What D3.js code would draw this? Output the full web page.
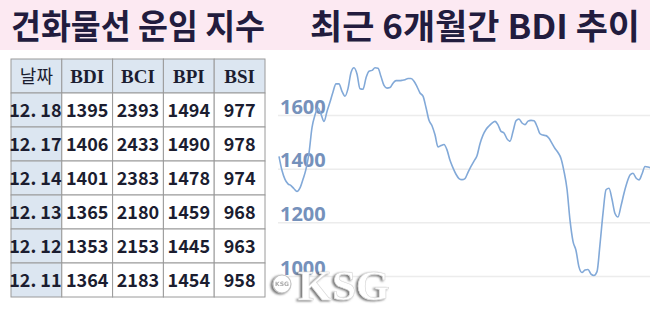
<!DOCTYPE html>
<html>
<head>
<meta charset="utf-8">
<title>BDI</title>
<script src="https://cdn.jsdelivr.net/npm/d3@7"></script>
<style>
  body { margin: 0; background: #fff; }
  svg { display: block; }
</style>
</head>
<body>
<svg id="chart" width="650" height="310"></svg>
<script>
const titleLeft = "건화물선 운임 지수";
const titleRight = "최근 6개월간 BDI 추이";
const headers = ["날짜", "BDI", "BCI", "BPI", "BSI"];
const dates = ["12. 18", "12. 17", "12. 14", "12. 13", "12. 12", "12. 11"];
const bdi = [1395, 1406, 1401, 1365, 1353, 1364];
const bci = [2393, 2433, 2383, 2180, 2153, 2183];
const bpi = [1494, 1490, 1478, 1459, 1445, 1454];
const bsi = [977, 978, 974, 968, 963, 958];
const yTicks = [1000, 1200, 1400, 1600];
// daily BDI over the last ~6 months
const bdiTrend = [
  1448, 1395, 1362, 1345, 1339, 1327, 1317, 1330, 1362, 1400,
  1460, 1555, 1602, 1628, 1605, 1578, 1615, 1650, 1688, 1718,
  1718, 1690, 1672, 1700, 1760, 1778, 1755, 1700, 1698, 1740,
  1765, 1768, 1778, 1776, 1745, 1712, 1702, 1704, 1720, 1730,
  1730, 1731, 1733, 1738, 1738, 1728, 1708, 1684, 1672, 1630,
  1582, 1562, 1528, 1483, 1488, 1492, 1472, 1433, 1405, 1381,
  1365, 1361, 1365, 1388, 1410, 1430, 1450, 1495, 1527, 1548,
  1561, 1572, 1578, 1565, 1541, 1535, 1513, 1504, 1540, 1580,
  1587, 1572, 1566, 1579, 1582, 1580, 1560, 1532, 1527, 1525,
  1515, 1496, 1477, 1462, 1440, 1392, 1326, 1210, 1131, 1097,
  1035, 1015, 1024, 1026, 1009, 1004, 1018, 1120, 1235, 1323,
  1329, 1288, 1235, 1222, 1263, 1310, 1350, 1378, 1385, 1367,
  1360, 1382, 1410, 1408, 1404
];

const svg = d3.select("#chart");

// title band
svg.append("rect").attr("x", 0).attr("y", 0).attr("width", 650).attr("height", 50).attr("fill", "#fce9f2");
svg.append("text").attr("x", 11).attr("y", 39)
  .attr("textLength", 254).attr("lengthAdjust", "spacingAndGlyphs")
  .style("font", "bold 34px 'Noto Sans CJK KR'").attr("fill", "#221c3e").text(titleLeft);
svg.append("text").attr("x", 310).attr("y", 39)
  .attr("textLength", 330).attr("lengthAdjust", "spacingAndGlyphs")
  .style("font", "bold 34px 'Noto Sans CJK KR'").attr("fill", "#221c3e").text(titleRight);

// table
const rows = dates.map((d, i) => [d, bdi[i], bci[i], bpi[i], bsi[i]]);
const colX = d3.scaleBand().domain(d3.range(headers.length)).range([11, 265]);
const rowY = d3.scaleBand().domain(d3.range(rows.length + 1)).range([59, 297]);

const tbl = svg.append("g");
const cells = [];
headers.forEach((h, c) => cells.push({ r: 0, c: c, v: h }));
rows.forEach((row, r) => row.forEach((v, c) => cells.push({ r: r + 1, c: c, v: v })));

tbl.selectAll("rect").data(cells).enter().append("rect")
  .attr("x", d => colX(d.c)).attr("y", d => rowY(d.r))
  .attr("width", colX.bandwidth()).attr("height", rowY.bandwidth())
  .attr("fill", d => (d.r == 0 || d.c == 0) ? "#dce6f1" : "#fff")
  .attr("stroke", "#9a9a9a").attr("stroke-width", 1);

tbl.selectAll("text").data(cells).enter().append("text")
  .attr("x", d => colX(d.c) + colX.bandwidth() / 2 + (d.c == 0 && d.r > 0 ? -1 : 0))
  .attr("y", d => rowY(d.r) + rowY.bandwidth() / 2 + 7)
  .attr("text-anchor", "middle")
  .style("font", d => {
    if (d.r == 0 && d.c == 0) return "18px 'Noto Sans CJK KR'";
    if (d.r == 0) return "bold 19px 'Liberation Serif'";
    return "bold 18px 'Noto Sans CJK KR'";
  })
  .attr("fill", "#1b1d30")
  .text(d => d.v);

// line chart
const x = d3.scaleLinear().domain([0, bdiTrend.length - 1]).range([279, 651]);
const y = d3.scaleLinear().domain([1000, 1600]).range([276.5, 115.5]);

const grid = svg.append("g");
grid.selectAll("line").data(yTicks).enter().append("line")
  .attr("x1", 278).attr("x2", 650)
  .attr("y1", d => y(d)).attr("y2", d => y(d))
  .attr("stroke", "#ececec").attr("stroke-width", 1.5);
grid.selectAll("text").data(yTicks).enter().append("text")
  .attr("x", 280).attr("y", d => y(d) - 2)
  .style("font", "bold 20px 'Open Sans'")
  .attr("fill", "#7591bb")
  .text(d => d);

const line = d3.line().x((d, i) => x(i)).y(d => y(d)).curve(d3.curveMonotoneX);
svg.append("path").datum(bdiTrend)
  .attr("d", line)
  .attr("fill", "none")
  .attr("stroke", "#82a9d8")
  .attr("stroke-width", 1.6);

// watermark
const defs = svg.append("defs");
const f = defs.append("filter").attr("id", "shadow").attr("x", "-20%").attr("y", "-20%").attr("width", "140%").attr("height", "140%");
f.append("feDropShadow").attr("dx", -2).attr("dy", 1).attr("stdDeviation", 1.2).attr("flood-color", "#666").attr("flood-opacity", 0.9);

const wm = svg.append("g").attr("filter", "url(#shadow)");
wm.append("circle").attr("cx", 282).attr("cy", 284).attr("r", 9)
  .attr("fill", "#fff").attr("stroke", "#c4c4c4").attr("stroke-width", 1.2);
wm.append("text").attr("x", 282).attr("y", 286).attr("text-anchor", "middle")
  .style("font", "bold 6px 'DejaVu Sans'").attr("fill", "#aaa").text("KSG");
wm.append("text").attr("x", 298).attr("y", 300)
  .attr("textLength", 92).attr("lengthAdjust", "spacingAndGlyphs")
  .style("font", "bold 42px 'Liberation Serif'")
  .attr("fill", "#fff").attr("stroke", "#d8d8d8").attr("stroke-width", 0.6)
  .text("KSG");
</script>
</body>
</html>
